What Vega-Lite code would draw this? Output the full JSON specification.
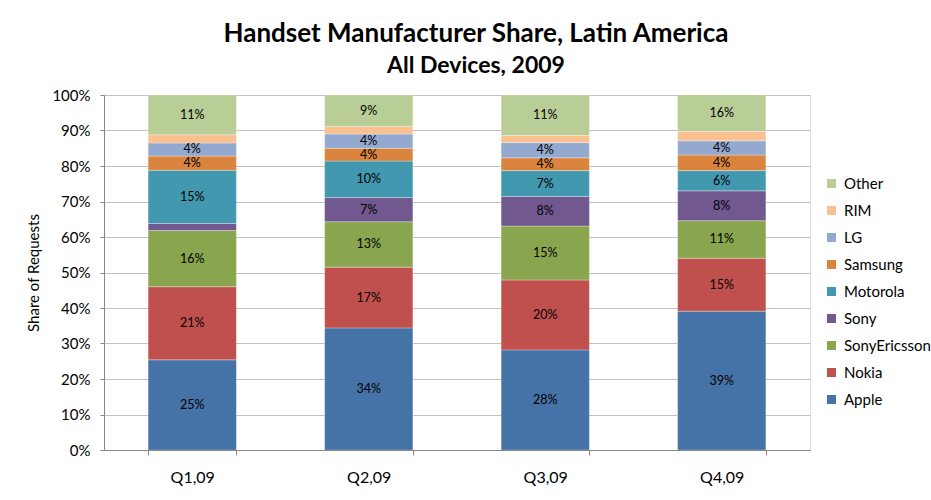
{
  "$schema": "https://vega.github.io/schema/vega-lite/v6.json",
  "autosize": "none",
  "width": 706,
  "height": 355,
  "padding": {"left": 104, "top": 95, "right": 121, "bottom": 50},
  "background": "white",
  "title": {
    "text": "Handset Manufacturer Share, Latin America",
    "subtitle": "All Devices, 2009",
    "font": "Lato",
    "fontSize": 26,
    "fontWeight": "bold",
    "color": "black",
    "subtitleFont": "Lato",
    "subtitleFontSize": 23,
    "subtitleFontWeight": "bold",
    "subtitleColor": "black",
    "subtitlePadding": 8,
    "anchor": "middle",
    "dx": 19,
    "offset": 10
  },
  "data": {
    "values": [
      {"quarter": "Q1,09", "maker": "Apple", "share": 0.254},
      {"quarter": "Q1,09", "maker": "Nokia", "share": 0.206},
      {"quarter": "Q1,09", "maker": "SonyEricsson", "share": 0.158},
      {"quarter": "Q1,09", "maker": "Sony", "share": 0.020},
      {"quarter": "Q1,09", "maker": "Motorola", "share": 0.150},
      {"quarter": "Q1,09", "maker": "Samsung", "share": 0.040},
      {"quarter": "Q1,09", "maker": "LG", "share": 0.037},
      {"quarter": "Q1,09", "maker": "RIM", "share": 0.023},
      {"quarter": "Q1,09", "maker": "Other", "share": 0.112},
      {"quarter": "Q2,09", "maker": "Apple", "share": 0.344},
      {"quarter": "Q2,09", "maker": "Nokia", "share": 0.171},
      {"quarter": "Q2,09", "maker": "SonyEricsson", "share": 0.128},
      {"quarter": "Q2,09", "maker": "Sony", "share": 0.068},
      {"quarter": "Q2,09", "maker": "Motorola", "share": 0.103},
      {"quarter": "Q2,09", "maker": "Samsung", "share": 0.036},
      {"quarter": "Q2,09", "maker": "LG", "share": 0.040},
      {"quarter": "Q2,09", "maker": "RIM", "share": 0.021},
      {"quarter": "Q2,09", "maker": "Other", "share": 0.089},
      {"quarter": "Q3,09", "maker": "Apple", "share": 0.282},
      {"quarter": "Q3,09", "maker": "Nokia", "share": 0.197},
      {"quarter": "Q3,09", "maker": "SonyEricsson", "share": 0.152},
      {"quarter": "Q3,09", "maker": "Sony", "share": 0.083},
      {"quarter": "Q3,09", "maker": "Motorola", "share": 0.073},
      {"quarter": "Q3,09", "maker": "Samsung", "share": 0.036},
      {"quarter": "Q3,09", "maker": "LG", "share": 0.043},
      {"quarter": "Q3,09", "maker": "RIM", "share": 0.020},
      {"quarter": "Q3,09", "maker": "Other", "share": 0.114},
      {"quarter": "Q4,09", "maker": "Apple", "share": 0.391},
      {"quarter": "Q4,09", "maker": "Nokia", "share": 0.149},
      {"quarter": "Q4,09", "maker": "SonyEricsson", "share": 0.106},
      {"quarter": "Q4,09", "maker": "Sony", "share": 0.084},
      {"quarter": "Q4,09", "maker": "Motorola", "share": 0.057},
      {"quarter": "Q4,09", "maker": "Samsung", "share": 0.044},
      {"quarter": "Q4,09", "maker": "LG", "share": 0.040},
      {"quarter": "Q4,09", "maker": "RIM", "share": 0.026},
      {"quarter": "Q4,09", "maker": "Other", "share": 0.160}
    ]
  },
  "transform": [
    {"window": [{"op": "row_number", "as": "idx"}], "groupby": ["quarter"]},
    {"stack": "share", "groupby": ["quarter"], "sort": [{"field": "idx", "order": "ascending"}], "as": ["y0", "y1"]},
    {"calculate": "(datum.y0 + min(datum.y1, 1)) / 2", "as": "ymid"}
  ],
  "encoding": {
    "x": {
      "field": "quarter",
      "type": "nominal",
      "title": null,
      "scale": {"paddingInner": 0.5, "paddingOuter": 0.25},
      "axis": {
        "labelAngle": 0,
        "labelFont": "Lato",
        "labelFontSize": 16,
        "labelColor": "black",
        "labelPadding": 14,
        "domainColor": "#868686",
        "tickColor": "#868686",
        "tickSize": 5,
        "tickBand": "extent"
      }
    }
  },
  "resolve": {"axis": {"y": "independent"}},
  "layer": [
    {
      "mark": {"type": "bar", "clip": true, "stroke": "white", "strokeWidth": 0.6, "strokeOpacity": 0.5},
      "encoding": {
        "y": {
          "field": "y0",
          "type": "quantitative",
          "title": "Share of Requests",
          "scale": {"domain": [0, 1], "nice": false},
          "axis": {
            "format": ".0%",
            "values": [0, 0.1, 0.2, 0.3, 0.4, 0.5, 0.6, 0.7, 0.8, 0.9, 1],
            "labelOverlap": false,
            "labelFont": "Lato",
            "labelFontSize": 15,
            "labelColor": "black",
            "labelPadding": 10,
            "tickSize": 4,
            "tickColor": "#868686",
            "domainColor": "#868686",
            "gridColor": "#C0C0C0",
            "titleFont": "Lato",
            "titleFontSize": 15,
            "titleFontWeight": "normal",
            "titleColor": "black",
            "titleX": -71,
            "titleY": 177.5,
            "titleAngle": -90,
            "titleBaseline": "middle",
            "titleAlign": "center"
          }
        },
        "y2": {"field": "y1"},
        "color": {
          "field": "maker",
          "type": "nominal",
          "scale": {
            "domain": ["Other", "RIM", "LG", "Samsung", "Motorola", "Sony", "SonyEricsson", "Nokia", "Apple"],
            "range": ["#B9CD96", "#FAC090", "#93A9CF", "#DB843D", "#4198AF", "#71588F", "#89A54E", "#C0504D", "#4572A7"]
          },
          "legend": {
            "title": null,
            "orient": "none",
            "legendX": 720,
            "legendY": 81,
            "padding": 0,
            "symbolType": "square",
            "symbolSize": 81,
            "symbolStrokeWidth": 0,
            "labelFont": "Lato",
            "labelFontSize": 15,
            "labelColor": "black",
            "labelOffset": 5,
            "rowPadding": 11
          }
        }
      }
    },
    {
      "transform": [{"filter": "datum.maker != 'RIM' && datum.share >= 0.03"}],
      "mark": {"type": "text", "font": "Lato", "fontSize": 12.5, "color": "black"},
      "encoding": {
        "y": {"field": "ymid", "type": "quantitative", "axis": null},
        "text": {"field": "share", "type": "quantitative", "format": ".0%"}
      }
    }
  ]
}
